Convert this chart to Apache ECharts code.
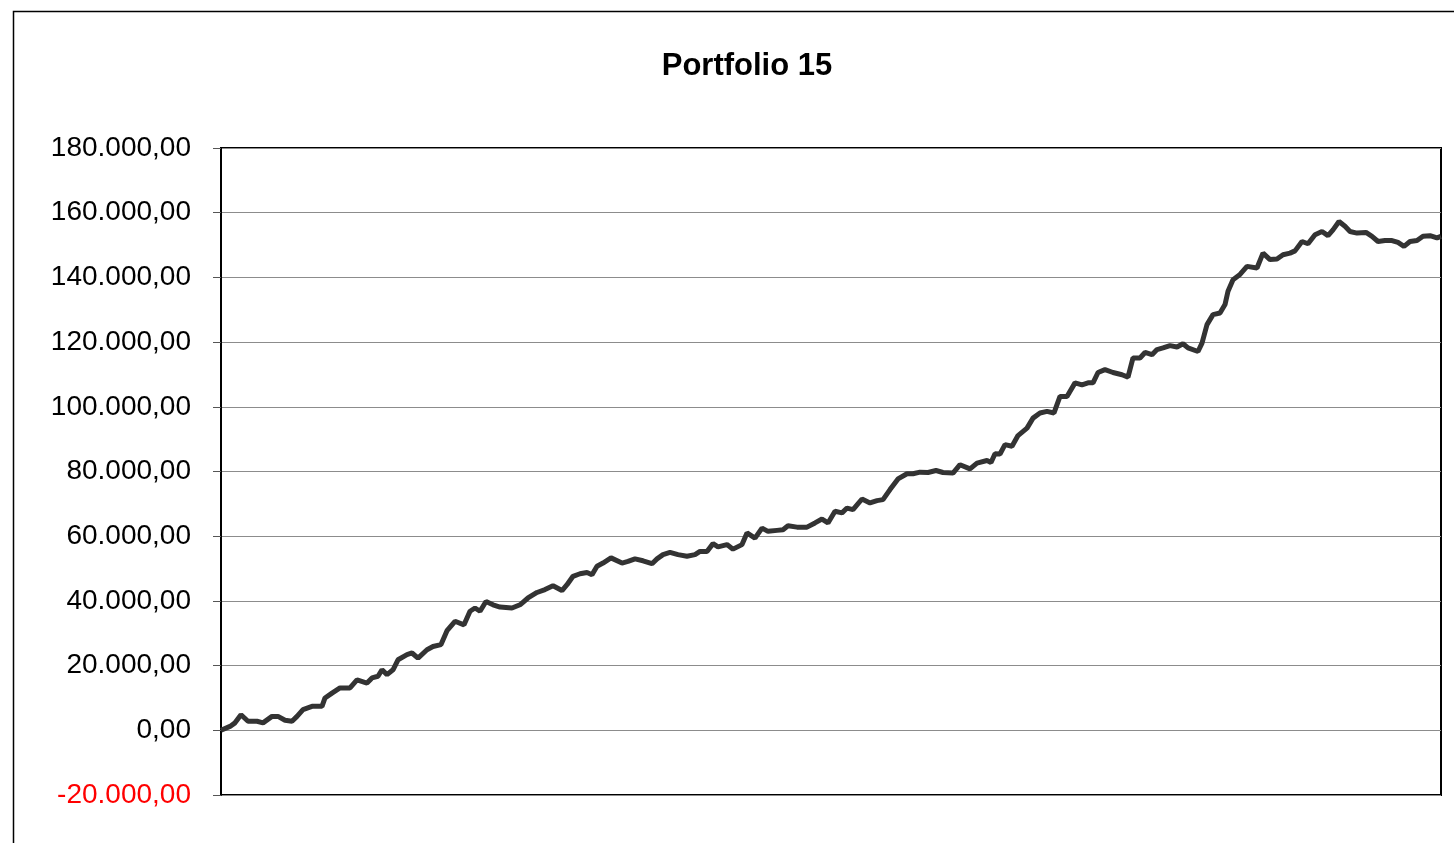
<!DOCTYPE html>
<html>
<head>
<meta charset="utf-8">
<title>Portfolio 15</title>
<script src="https://cdn.jsdelivr.net/npm/echarts@6/dist/echarts.min.js"></script>
<style>
  html, body { margin: 0; padding: 0; background: #fff; }
  #chart { width: 1454px; height: 843px; }
</style>
</head>
<body>
<div id="chart"></div>
<script>
// trading day index (x) and equity in thousands (y)
const days = [
  0, 9, 14, 20, 27, 36, 42, 51, 57, 64, 71, 76, 82, 91, 101, 104, 111, 119, 129, 136,
  146, 151, 157, 161, 166, 172, 177, 186, 191, 197, 206, 212, 220, 226, 234, 243, 249, 254, 259, 265,
  272, 279, 291, 299, 307, 316, 324, 332, 341, 346, 352, 359, 366, 371, 376, 382, 390, 401, 407, 414,
  422, 431, 436, 442, 449, 457, 466, 474, 479, 486, 492, 497, 506, 512, 521, 526, 534, 541, 547, 556,
  562, 567, 576, 586, 594, 601, 607, 614, 621, 626, 632, 641, 649, 656, 662, 669, 677, 686, 692, 699,
  707, 715, 722, 732, 739, 749, 756, 766, 770, 774, 779, 784, 791, 797, 806, 812, 819, 826, 833, 839,
  846, 854, 861, 867, 872, 877, 884, 892, 901, 907, 912, 919, 924, 931, 936, 942, 949, 956, 962, 967,
  977, 981, 986, 992, 999, 1004, 1007, 1012, 1019, 1026, 1036, 1042, 1049, 1056, 1062, 1069, 1074, 1081, 1087, 1094,
  1101, 1107, 1112, 1118, 1124, 1129, 1136, 1145, 1151, 1157, 1164, 1171, 1177, 1183, 1189, 1196, 1202, 1209, 1216, 1220
];
const equity = [
  0, 1.2, 2.3, 4.8, 2.8, 2.8, 2.3, 4.3, 4.3, 3.1, 2.8, 4.3, 6.4, 7.4, 7.4, 10.0, 11.5, 13.1, 13.1, 15.6,
  14.6, 16.2, 16.7, 18.7, 17.2, 18.7, 21.8, 23.4, 23.9, 22.3, 24.9, 25.9, 26.5, 30.8, 33.7, 32.6, 36.8, 37.8, 36.8, 39.8,
  38.8, 38.1, 37.8, 38.8, 40.9, 42.6, 43.5, 44.7, 43.2, 45.0, 47.6, 48.4, 48.8, 48.1, 50.7, 51.7, 53.3, 51.7, 52.2, 53.0,
  52.4, 51.5, 53.0, 54.3, 55.0, 54.3, 53.8, 54.3, 55.3, 55.3, 57.7, 56.7, 57.4, 56.0, 57.4, 61.0, 59.4, 62.5, 61.5, 61.8,
  62.0, 63.2, 62.8, 62.8, 64.1, 65.3, 64.1, 67.7, 67.2, 68.7, 68.2, 71.5, 70.3, 71.0, 71.3, 74.4, 77.7, 79.3, 79.3, 79.8,
  79.7, 80.3, 79.7, 79.5, 82.1, 80.8, 82.6, 83.4, 82.8, 85.5, 85.4, 88.3, 87.8, 91.1, 93.4, 96.5, 98.1, 98.6, 98.1, 103.2,
  103.2, 107.4, 106.8, 107.4, 107.4, 110.6, 111.5, 110.6, 109.9, 109.2, 115.1, 115.1, 116.8, 116.1, 117.7, 118.2, 118.9, 118.5, 119.5, 118.2,
  117.1, 119.7, 125.4, 128.5, 129.0, 131.6, 135.7, 139.3, 140.9, 143.4, 142.9, 147.5, 145.5, 145.7, 147.0, 147.5, 148.2, 151.1, 150.4, 153.2,
  154.2, 152.9, 154.7, 157.3, 155.8, 154.2, 153.7, 153.9, 152.7, 151.1, 151.4, 151.4, 150.8, 149.6, 151.1, 151.4, 152.7, 152.9, 152.2, 152.7
];
const yTicks = [-20000, 0, 20000, 40000, 60000, 80000, 100000, 120000, 140000, 160000, 180000];

const fmt = (v) => v.toLocaleString('de-DE', { minimumFractionDigits: 2, maximumFractionDigits: 2 });

const chart = echarts.init(document.getElementById('chart'), null, { renderer: 'canvas' });

chart.setOption({
  backgroundColor: '#fff',
  animation: false,
  textStyle: { fontFamily: 'Liberation Sans, Arial, sans-serif' },
  graphic: [
    {
      type: 'rect',
      shape: { x: 13.5, y: 11.5, width: 1500, height: 900 },
      style: { fill: 'none', stroke: '#000', lineWidth: 1.5 },
      silent: true
    }
  ],
  title: {
    text: 'Portfolio 15',
    left: 742,
    top: 46,
    textAlign: 'center',
    textStyle: { fontSize: 31, fontWeight: 'bold', color: '#000', fontFamily: 'Liberation Sans, Arial, sans-serif' }
  },
  grid: {
    left: 221,
    top: 148,
    width: 1220,
    height: 647,
    show: true,
    borderColor: '#000',
    borderWidth: 2,
    backgroundColor: '#fff'
  },
  xAxis: {
    type: 'value',
    min: 0,
    max: 1220,
    show: false
  },
  yAxis: {
    type: 'value',
    min: yTicks[0],
    max: yTicks[yTicks.length - 1],
    interval: 20000,
    axisLine: { show: true, lineStyle: { color: '#000', width: 2 } },
    axisTick: { show: true, length: 8, lineStyle: { color: '#555', width: 1 } },
    splitLine: { show: true, lineStyle: { color: '#8c8c8c', width: 1 } },
    axisLabel: {
      margin: 30,
      fontSize: 28,
      fontFamily: 'Liberation Sans, Arial, sans-serif',
      color: (v) => (v < 0 ? '#ff0000' : '#000'),
      formatter: (v) => fmt(v)
    }
  },
  series: [
    {
      type: 'line',
      data: days.map((d, i) => [d, equity[i] * 1000]),
      showSymbol: false,
      smooth: false,
      lineStyle: { color: '#333333', width: 5 },
      z: 3
    }
  ]
});
</script>
</body>
</html>
